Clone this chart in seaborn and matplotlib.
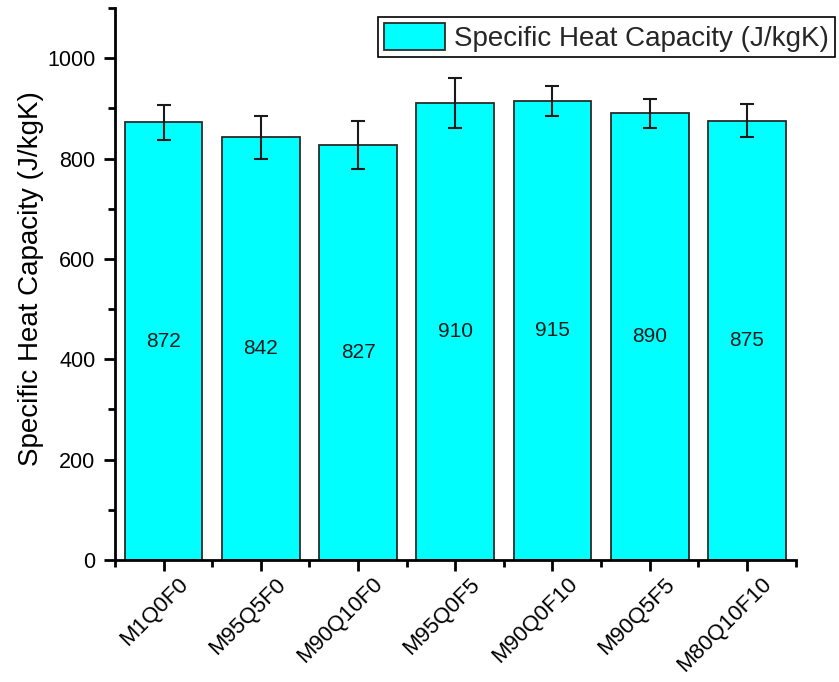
import matplotlib
matplotlib.use("Agg")
import matplotlib.pyplot as plt
from matplotlib.patches import Patch
from matplotlib.ticker import MultipleLocator
from matplotlib.transforms import ScaledTranslation
import seaborn as sns
import pandas as pd

# Mix designations and measured specific heat capacity (J/kgK)
mixes = ["M1Q0F0", "M95Q5F0", "M90Q10F0", "M95Q0F5", "M90Q0F10", "M90Q5F5", "M80Q10F10"]
heat_capacity = [872, 842, 827, 910, 915, 890, 875]
std_error = [35, 42, 47, 50, 30, 29, 33]

df = pd.DataFrame({"mix": mixes, "cp": heat_capacity, "err": std_error})

sns.set_theme(style="ticks")
plt.rcParams["font.family"] = ["Liberation Sans", "DejaVu Sans"]

W, H, DPI = 839, 682, 100
fig = plt.figure(figsize=(W / DPI, H / DPI), dpi=DPI)
ax = fig.add_axes([115 / W, (H - 560) / H, (795.5 - 115) / W, (560 - 8) / H])

cyan = "#00FFFF"
sns.barplot(data=df, x="mix", y="cp", color=cyan, saturation=1, width=0.8,
            edgecolor="#2b2b2b", linewidth=1.3, errorbar=None, ax=ax)

ax.errorbar(range(len(mixes)), df["cp"], yerr=df["err"], fmt="none",
            ecolor="#1a1a1a", elinewidth=1.5, capsize=5, capthick=1.5, zorder=5)

# Value labels at half bar height
for i, v in enumerate(heat_capacity):
    ax.text(i, v / 2, f"{v}", ha="center", va="center", fontsize=15, color="#1a1a1a")

ax.set_xlim(-0.5, len(mixes) - 0.5)
ax.set_ylim(0, 1100)
ax.yaxis.set_major_locator(MultipleLocator(200))
ax.yaxis.set_minor_locator(MultipleLocator(100))
ax.set_xticks(range(len(mixes)))
ax.set_xticks([i - 0.5 for i in range(len(mixes) + 1)], minor=True)

sns.despine(ax=ax)
for s in ("left", "bottom"):
    ax.spines[s].set_linewidth(2)
    ax.spines[s].set_color("black")

ax.tick_params(axis="both", which="major", direction="out", length=8, width=2,
               color="black", labelsize=15.5, labelcolor="black")
ax.tick_params(axis="both", which="minor", direction="out", length=5, width=2, color="black")
ax.tick_params(axis="y", pad=6)
ax.tick_params(axis="x", pad=2)

ax.set_xlabel("")
ax.set_ylabel("Specific Heat Capacity (J/kgK)", fontsize=20, color="black")
ax.yaxis.set_label_coords(-0.104, 0.51)

offset = ScaledTranslation(29 / DPI, 0, fig.dpi_scale_trans)
for lab in ax.get_xticklabels():
    lab.set_rotation(45)
    lab.set_ha("right")
    lab.set_va("top")
    lab.set_fontsize(16)
    lab.set_transform(lab.get_transform() + offset)

handle = Patch(facecolor=cyan, edgecolor="#2b2b2b", linewidth=1.3)
fig.legend([handle], ["Specific Heat Capacity (J/kgK)"], loc="upper left",
           bbox_to_anchor=(378 / W, 1 - 17 / H), fontsize=20, frameon=True,
           fancybox=False, edgecolor="black", framealpha=1,
           handlelength=2.2, handleheight=1.15, handletextpad=0.35,
           borderpad=0.2, borderaxespad=0)
fig.legends[0].get_frame().set_linewidth(1.2)

fig.savefig("out.png", dpi=DPI)
